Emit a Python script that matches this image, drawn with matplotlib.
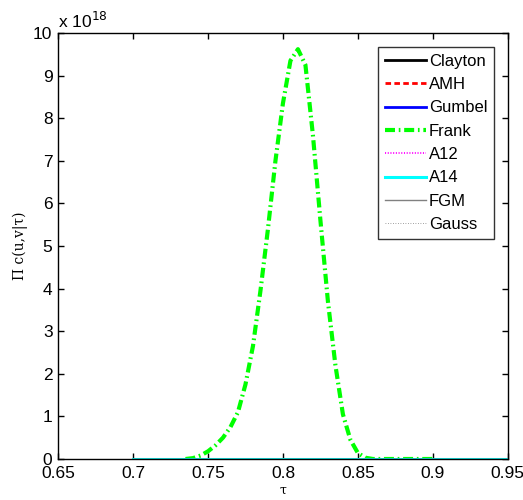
import matplotlib
matplotlib.use("Agg")
import matplotlib.pyplot as plt

# Kendall's tau grid shared by the near-zero copulas
tau_all = [0.70, 0.75, 0.80, 0.85, 0.90, 0.95]
clayton = [0.0, 0.0, 0.0, 0.0, 0.0, 0.0]
amh = [0.0, 0.0, 0.0, 0.0, 0.0, 0.0]
gumbel = [0.0, 0.0, 0.0, 0.0, 0.0, 0.0]
a12 = [0.0, 0.0, 0.0, 0.0, 0.0, 0.0]
a14 = [0.0, 0.0, 0.0, 0.0, 0.0, 0.0]
fgm = [0.0, 0.0, 0.0, 0.0, 0.0, 0.0]
gauss = [0.0, 0.0, 0.0, 0.0, 0.0, 0.0]

# Frank copula likelihood (in units of 1e18)
tau_frank = [0.735, 0.740, 0.745, 0.750, 0.755, 0.760, 0.765, 0.770, 0.775,
             0.780, 0.785, 0.790, 0.795, 0.800, 0.805, 0.810, 0.815, 0.820,
             0.825, 0.830, 0.835, 0.840, 0.845, 0.850, 0.855, 0.860, 0.865,
             0.870, 0.875, 0.880, 0.885, 0.890, 0.895, 0.900]
frank = [0.0, 0.02, 0.08, 0.18, 0.32, 0.50, 0.75, 1.10, 1.75,
         2.65, 3.95, 5.4, 7.0, 8.35, 9.35, 9.62, 9.25, 7.6,
         5.6, 3.7, 2.2, 1.05, 0.45, 0.14, 0.03, 0.0, 0.0,
         0.0, 0.0, 0.0, 0.0, 0.0, 0.0, 0.0]

xticks = [0.65, 0.7, 0.75, 0.8, 0.85, 0.9, 0.95]
yticks = list(range(0, 11))

plt.rcParams['font.family'] = ['Liberation Sans', 'DejaVu Sans']

fig = plt.figure(figsize=(5.23, 5.0), dpi=100)
ax = fig.add_axes([0.111, 0.082, 0.860, 0.852])

ax.plot(tau_all, clayton, color='black', lw=2.0, label='Clayton')
ax.plot(tau_all, amh, color='red', lw=2.0, ls=(0, (2.0, 1.2)), label='AMH')
ax.plot(tau_all, gumbel, color='blue', lw=2.0, label='Gumbel')
ax.plot(tau_frank, frank, color='#00ff00', lw=3.0,
        ls=(0, (2.4, 0.9, 0.4, 0.9)), label='Frank')
ax.plot(tau_all, a12, color='magenta', lw=1.3, ls=(0, (0.6, 0.9)), label='A12')
ax.plot(tau_all, a14, color='cyan', lw=2.2, label='A14')
ax.plot(tau_all, fgm, color='gray', lw=1.0, label='FGM')
ax.plot(tau_all, gauss, color='gray', lw=0.6, ls=(0, (1, 2)), label='Gauss')

ax.set_xlim(0.65, 0.95)
ax.set_ylim(0, 10)
ax.set_xticks(xticks)
ax.set_xticklabels(['0.65', '0.7', '0.75', '0.8', '0.85', '0.9', '0.95'])
ax.set_yticks(yticks)
ax.tick_params(direction='in', top=True, right=True, labelsize=12.5,
               length=4, width=1.0)
ax.tick_params(axis='x', pad=5)
ax.tick_params(axis='y', pad=4)
for s in ax.spines.values():
    s.set_linewidth(1.0)

ax.text(0.0, 1.005, r'x 10$^{18}$', transform=ax.transAxes,
        ha='left', va='bottom', fontsize=12.5)

ax.set_xlabel('τ', family=['DejaVu Serif'], fontsize=9, labelpad=2)
ax.set_ylabel('Π c(u,v|τ)', family=['DejaVu Serif'], fontsize=10, labelpad=4)

leg = ax.legend(loc='upper right', bbox_to_anchor=(0.969, 0.967),
                fontsize=12, frameon=True, fancybox=False, handlelength=2.5,
                handletextpad=0.15, labelspacing=0.5, borderpad=0.4,
                borderaxespad=0.0)
leg.get_frame().set_edgecolor('black')
leg.get_frame().set_linewidth(1.0)

fig.savefig('out.png', dpi=100)
